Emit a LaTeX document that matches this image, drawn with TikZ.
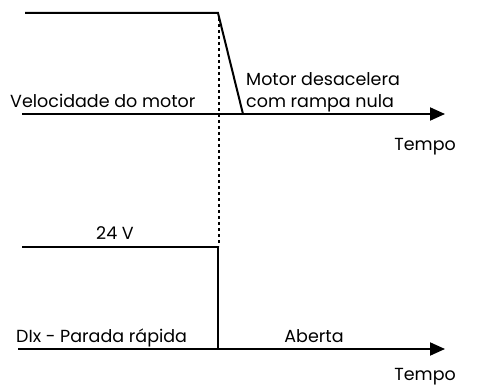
\documentclass[tikz,border=0pt]{standalone}
\usepackage{fontspec}
\setmainfont{Poppins}
\usetikzlibrary{arrows.meta}
\begin{document}
\begin{tikzpicture}[x=1pt,y=-1pt,
  sig/.style={line width=2pt},
  axis/.style={line width=2pt,-{Triangle[length=15pt,width=13pt]}},
  lbl/.style={inner sep=0pt,font=\fontsize{17.5}{20}\selectfont}]
\useasboundingbox (0,0) rectangle (485,385);
% top
\coordinate (t0) at (25,13);
\coordinate (t1) at (218,13);
\coordinate (t2) at (243,114);
\coordinate (a0) at (22,114);
\coordinate (a1) at (445,114);
\draw[sig] (t0) -- (t1) -- (t2);
\draw[axis] (a0) -- (a1);
% bottom
\coordinate (b0) at (22,247);
\coordinate (b1) at (218,247);
\coordinate (b2) at (218,349);
\coordinate (c0) at (18,349);
\coordinate (c1) at (445,349);
\draw[sig] (b0) -- (b1) -- (b2);
\draw[axis] (c0) -- (c1);
% dotted
\draw[line width=1.8pt,dash pattern=on 3pt off 3pt] (219,18) -- (219,246);
% labels
\node[lbl,anchor=base west] (v) at (10,108) {Velocidade do motor};
\node[lbl,anchor=base west] (m1) at (246,86) {Motor desacelera};
\node[lbl,anchor=base west] (m2) at (246,108) {com rampa nula};
\node[lbl,anchor=base east] (tp1) at (456,151) {Tempo};
\node[lbl,anchor=base] (v24) at (115,240) {24 V};
\node[lbl,anchor=base west] (di) at (16,342) {DIx - Parada rápida};
\node[lbl,anchor=base] (ab) at (314,342) {Aberta};
\node[lbl,anchor=base east] (tp2) at (456,380) {Tempo};
\end{tikzpicture}
\end{document}
